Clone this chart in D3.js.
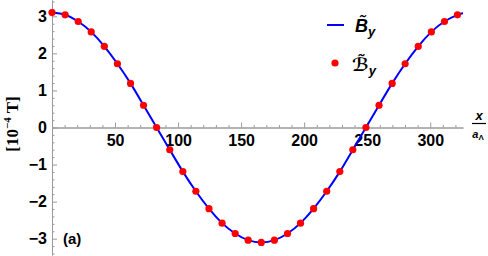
<!DOCTYPE html>
<html lang="en">
<head>
    <meta charset="UTF-8">
    <title>B_y field</title>
    <script src="https://d3js.org/d3.v7.min.js"></script>
    <style>
        body { margin: 0; background: #fff; }
        svg { display: block; }
        .tick text { font-family: "Liberation Sans", Arial, sans-serif; font-weight: 700; font-size: 16px; fill: #000; }
        .axis path, .axis line { stroke: #9a9a9a; }
    </style>
</head>
<body>
<div id="container"></div>
<script>
    // sample positions (x / a_Lambda) and field values [1e-4 T]
    const xs = [0, 10.4, 20.8, 31.1, 41.5, 51.9, 62.3, 72.6, 83.0, 93.4, 103.8, 114.1,
        124.5, 134.9, 145.3, 155.6, 166.0, 176.4, 186.8, 197.1, 207.5, 217.9, 228.3,
        238.6, 249.0, 259.4, 269.8, 280.1, 290.5, 300.9, 311.3, 321.6];
    const ys = [3.10, 3.04, 2.86, 2.58, 2.19, 1.72, 1.19, 0.60, 0.00, -0.60, -1.19, -1.72,
        -2.19, -2.58, -2.86, -3.04, -3.10, -3.04, -2.86, -2.58, -2.19, -1.72, -1.19,
        -0.60, 0.00, 0.60, 1.19, 1.72, 2.19, 2.58, 2.86, 3.04];
    // the solid curve runs a little past the last sample
    const lineEnd = [326, 3.08];

    const xMajor = [50, 100, 150, 200, 250, 300];
    const yMajor = [-3, -2, -1, 0, 1, 2, 3];

    const width = 488, height = 256;
    const svg = d3.select('#container').append('svg')
        .attr('width', width).attr('height', height);

    const x = d3.scaleLinear().domain([0, 326]).range([52, 463]);
    const y = d3.scaleLinear().domain([-3.44, 3.44]).range([255, 0]);

    const xMinor = d3.range(10, 330, 10).filter(v => v % 50 !== 0);
    const yMinor = d3.range(-34, 35, 2).map(v => v / 10).filter(v => Math.abs(v % 1) > 0.01);

    // x axis at y = 0, ticks point up
    svg.append('g').attr('class', 'axis')
        .attr('transform', `translate(0,${y(0)})`)
        .call(d3.axisBottom(x).tickValues(xMinor).tickSize(-2.5).tickFormat('').tickSizeOuter(0));
    svg.append('g').attr('class', 'axis')
        .attr('transform', `translate(0,${y(0)})`)
        .call(d3.axisBottom(x).tickValues(xMajor).tickSize(-5).tickPadding(7).tickSizeOuter(0));

    // y axis, ticks point right
    svg.append('g').attr('class', 'axis')
        .attr('transform', `translate(${x(0)},0)`)
        .call(d3.axisLeft(y).tickValues(yMinor).tickSize(-2.5).tickFormat('').tickSizeOuter(0));
    svg.append('g').attr('class', 'axis')
        .attr('transform', `translate(${x(0)},0)`)
        .call(d3.axisLeft(y).tickValues(yMajor).tickFormat(d3.format('d'))
            .tickSize(-5).tickPadding(5).tickSizeOuter(0));

    // curve
    const pts = xs.map((v, i) => [v, ys[i]]).concat([lineEnd]);
    const line = d3.line().x(d => x(d[0])).y(d => y(d[1])).curve(d3.curveNatural);
    svg.append('path')
        .datum(pts)
        .attr('d', line)
        .attr('fill', 'none')
        .attr('stroke', '#0000ff')
        .attr('stroke-width', 2);

    // samples
    svg.selectAll('.dot')
        .data(xs)
        .enter()
        .append('circle')
        .attr('class', 'dot')
        .attr('cx', d => x(d))
        .attr('cy', (d, i) => y(ys[i]))
        .attr('r', 3.6)
        .attr('fill', '#ff0000');

    // legend
    const leg = svg.append('g').attr('font-family', '"Liberation Sans", Arial, sans-serif')
        .attr('font-weight', 700).attr('font-style', 'italic');
    leg.append('line').attr('x1', 327).attr('x2', 344).attr('y1', 25).attr('y2', 25)
        .attr('stroke', '#0000ff').attr('stroke-width', 2);
    leg.append('text').attr('x', 355).attr('y', 32).attr('font-size', 18).text('B\u0303')
        .append('tspan').attr('font-size', 13).attr('dy', 4).text('y');
    leg.append('circle').attr('cx', 335).attr('cy', 63).attr('r', 3.6).attr('fill', '#ff0000');
    leg.append('text').attr('x', 352).attr('y', 71).attr('font-size', 18)
        .attr('font-family', '"DejaVu Sans", sans-serif').text('ℬ\u0303')
        .append('tspan').attr('font-family', '"Liberation Sans", Arial, sans-serif')
        .attr('font-size', 13).attr('dy', 4).text('y');

    // x label as a fraction
    const xl = svg.append('g').attr('font-family', '"Liberation Sans", Arial, sans-serif')
        .attr('font-weight', 700).attr('font-style', 'italic').attr('text-anchor', 'middle');
    xl.append('text').attr('x', 479).attr('y', 120).attr('font-size', 13).text('x');
    xl.append('line').attr('x1', 472).attr('x2', 486).attr('y1', 123.5).attr('y2', 123.5)
        .attr('stroke', '#000').attr('stroke-width', 1.2);
    xl.append('text').attr('x', 478).attr('y', 138).attr('font-size', 11).text('a')
        .append('tspan').attr('font-size', 8).attr('dy', 2).attr('font-style', 'normal').text('Λ');

    // y label
    const ylab = svg.append('text')
        .attr('transform', 'translate(18,124) rotate(-90)')
        .attr('text-anchor', 'middle')
        .attr('font-family', '"Liberation Serif", "Times New Roman", serif')
        .attr('font-weight', 700)
        .attr('font-size', 17);
    ylab.append('tspan').text('[10');
    ylab.append('tspan').attr('font-size', 11).attr('dy', -7).text('−4');
    ylab.append('tspan').attr('dy', 7).text(' T]');

    // panel tag
    svg.append('text').attr('x', 63).attr('y', 244)
        .attr('font-family', '"Liberation Sans", Arial, sans-serif')
        .attr('font-weight', 700).attr('font-size', 15).text('(a)');
</script>
</body>
</html>
